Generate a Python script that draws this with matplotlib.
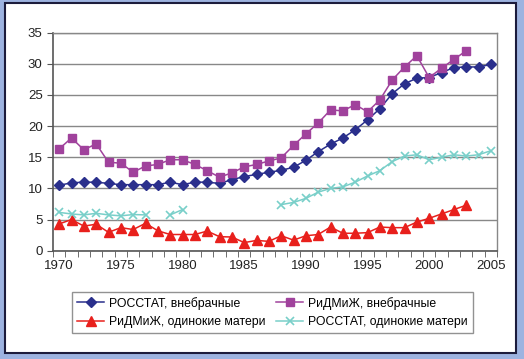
import numpy as np
import matplotlib
matplotlib.use('Agg')
import matplotlib.pyplot as plt
from matplotlib.patches import Rectangle

plt.rcParams['font.family'] = ['Liberation Sans', 'DejaVu Sans']

years = list(range(1970, 2006))
nan = np.nan

# РОССТАТ, внебрачные (1970-2005)
rosstat_vneb = [10.5, 10.9, 11.0, 11.0, 10.8, 10.6, 10.6, 10.6, 10.6, 11.0,
                10.6, 11.0, 11.0, 10.8, 11.4, 11.9, 12.25, 12.6, 12.9, 13.4,
                14.5, 15.9, 17.1, 18.1, 19.4, 21.0, 22.8, 25.2, 26.8, 27.7,
                27.8, 28.6, 29.4, 29.5, 29.5, 29.9]
# РиДМиЖ, внебрачные (1970-2003)
ridmizh_vneb = [16.35, 18.1, 16.2, 17.15, 14.2, 14.05, 12.6, 13.6, 13.85, 14.6,
                14.6, 13.85, 12.85, 11.8, 12.5, 13.45, 13.85, 14.4, 14.9, 16.9,
                18.75, 20.5, 22.6, 22.45, 23.45, 22.3, 24.2, 27.4, 29.5, 31.3,
                27.8, 29.3, 30.7, 32.1, nan, nan]
# РиДМиЖ, одинокие матери (1970-2003)
ridmizh_odin = [4.3, 5.0, 3.95, 4.25, 2.95, 3.7, 3.4, 4.4, 3.2, 2.6,
                2.6, 2.6, 3.15, 2.25, 2.2, 1.3, 1.65, 1.5, 2.4, 1.7,
                2.4, 2.6, 3.8, 2.8, 2.8, 2.9, 3.8, 3.7, 3.7, 4.6,
                5.2, 5.9, 6.6, 7.3, nan, nan]
# РОССТАТ, одинокие матери (with gaps)
rosstat_odin = [6.15, 5.9, 5.75, 6.0, 5.75, 5.6, 5.8, 5.75, nan, 5.75,
                6.6, nan, nan, nan, nan, nan, nan, nan, 7.4, 7.75,
                8.4, 9.4, 10.0, 10.25, 11.0, 12.0, 12.85, 14.3, 15.2, 15.4,
                14.6, 15.0, 15.4, 15.2, 15.4, 16.05]

labels = ['РОССТАТ, внебрачные', 'РиДМиЖ, внебрачные',
          'РиДМиЖ, одинокие матери', 'РОССТАТ, одинокие матери']

fig = plt.figure(figsize=(5.24, 3.59), dpi=100)
fig.patch.set_facecolor('#9db3e0')
fig.patches.append(Rectangle((5/524, 6/359), 511/524, 350/359,
                             transform=fig.transFigure, facecolor='white',
                             edgecolor='#1c1c3c', lw=1.5, zorder=-10))

ax = fig.add_axes([53/524, 108.3/359, 444/524, 218/359])
ax.set_facecolor('white')

h1, = ax.plot(years, rosstat_vneb, color='#2a2f8c', marker='D', ms=4.8, lw=1.1)
h2, = ax.plot(years, ridmizh_vneb, color='#a0429c', marker='s', ms=6, lw=1.1)
h3, = ax.plot(years, ridmizh_odin, color='#e8201c', marker='^', ms=6.5, lw=1.1)
h4, = ax.plot(years, rosstat_odin, color='#79cfc9', marker='x', ms=6,
              mew=1.2, lw=1.1)

ax.set_xlim(1969.5, 2005.5)
ax.set_ylim(0, 35)
ax.set_yticks(range(0, 36, 5))
ax.set_xticks(range(1970, 2006, 5))
ax.set_xticks(np.arange(1969.5, 2006, 1), minor=True)
ax.tick_params(axis='x', which='major', length=0, labelsize=9.5, pad=7, colors='#222222')
ax.tick_params(axis='x', which='minor', length=4, color='#555555')
ax.tick_params(axis='y', length=4, labelsize=9.5, color='#555555', labelcolor='#222222')
ax.grid(axis='y', color='#888888', lw=1)
ax.set_axisbelow(True)
for side in ['left', 'bottom']:
    ax.spines[side].set_color('#555555')
    ax.spines[side].set_linewidth(1.2)
for side in ['top', 'right']:
    ax.spines[side].set_color('#888888')
    ax.spines[side].set_linewidth(1)

fig.legend([h1, h3, h2, h4], [labels[0], labels[2], labels[1], labels[3]],
           ncol=2, loc='center', bbox_to_anchor=(272.5/524, 1 - 312.5/359),
           fontsize=8.8, frameon=True, fancybox=False, edgecolor='#777777',
           handlelength=2.2, columnspacing=0.9, handletextpad=0.4,
           labelspacing=0.55, borderpad=0.4)

fig.savefig('out.png', dpi=100)
